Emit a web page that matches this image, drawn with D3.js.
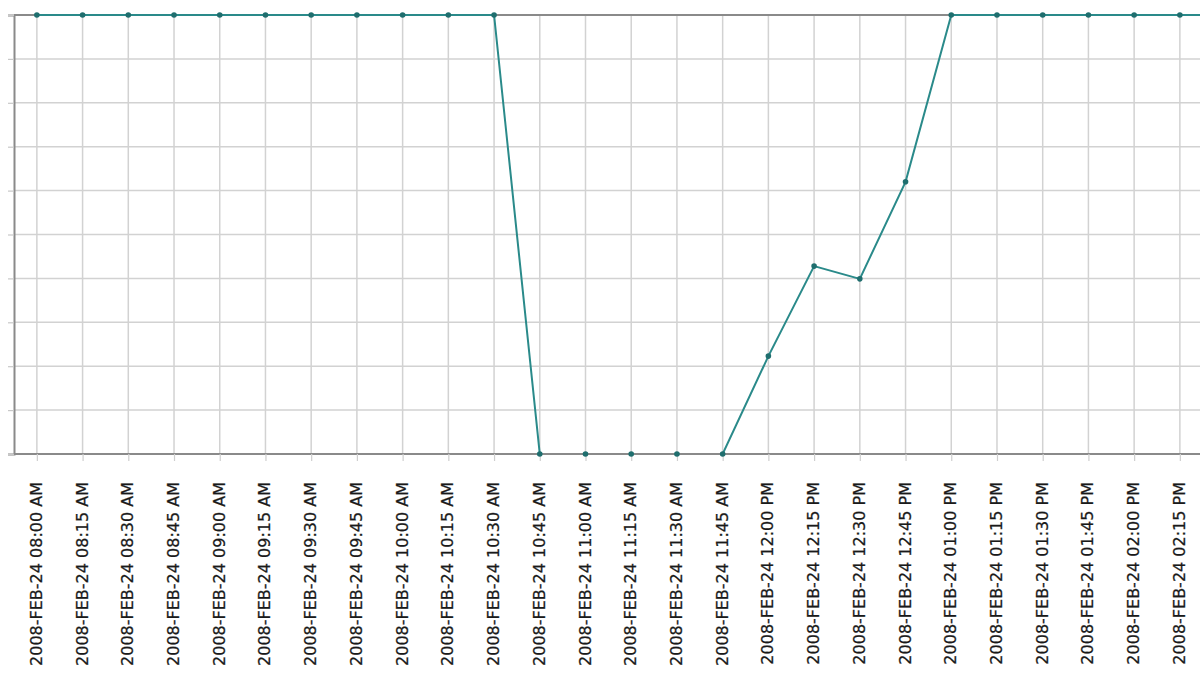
<!DOCTYPE html>
<html>
<head>
<meta charset="utf-8">
<script src="https://cdn.jsdelivr.net/npm/d3@7"></script>
<style>
  html, body { margin: 0; padding: 0; background: #fff; }
  svg { display: block; }
</style>
</head>
<body>
<svg id="chart" width="1200" height="675"></svg>
<script>
const categories = [
  "2008-FEB-24 08:00 AM", "2008-FEB-24 08:15 AM", "2008-FEB-24 08:30 AM", "2008-FEB-24 08:45 AM",
  "2008-FEB-24 09:00 AM", "2008-FEB-24 09:15 AM", "2008-FEB-24 09:30 AM", "2008-FEB-24 09:45 AM",
  "2008-FEB-24 10:00 AM", "2008-FEB-24 10:15 AM", "2008-FEB-24 10:30 AM", "2008-FEB-24 10:45 AM",
  "2008-FEB-24 11:00 AM", "2008-FEB-24 11:15 AM", "2008-FEB-24 11:30 AM", "2008-FEB-24 11:45 AM",
  "2008-FEB-24 12:00 PM", "2008-FEB-24 12:15 PM", "2008-FEB-24 12:30 PM", "2008-FEB-24 12:45 PM",
  "2008-FEB-24 01:00 PM", "2008-FEB-24 01:15 PM", "2008-FEB-24 01:30 PM", "2008-FEB-24 01:45 PM",
  "2008-FEB-24 02:00 PM", "2008-FEB-24 02:15 PM", "2008-FEB-24 02:30 PM"
];
const values = [
  100, 100, 100, 100, 100, 100, 100, 100, 100, 100, 100, 0,
  0, 0, 0, 0, 22.3, 42.8, 39.9, 62.0,
  100, 100, 100, 100, 100, 100, 100
];
const yTicks = [0, 10, 20, 30, 40, 50, 60, 70, 80, 90, 100];

(function () {
const svg = d3.select("#chart");
const W = 1200;
const mLeft = 14, mTop = 15, mBottom = 454, step = 45.72;

const x = d3.scalePoint()
  .domain(categories)
  .range([mLeft, mLeft + categories.length * step])
  .padding(0.5);
const y = d3.scaleLinear().domain([0, 100]).range([mBottom, mTop]);

const data = categories.map((c, i) => ({ c, v: values[i] }));

// horizontal grid
svg.append("g").selectAll("line").data(yTicks).join("line")
  .attr("x1", mLeft).attr("x2", W)
  .attr("y1", d => y(d)).attr("y2", d => y(d))
  .attr("stroke", "#d2d2d2").attr("stroke-width", 1.5);

// vertical grid
svg.append("g").selectAll("line").data(categories).join("line")
  .attr("x1", d => x(d)).attr("x2", d => x(d))
  .attr("y1", mTop).attr("y2", mBottom)
  .attr("stroke", "#d2d2d2").attr("stroke-width", 1.5);

// left axis with outer ticks
const yAxis = svg.append("g")
  .attr("transform", `translate(${mLeft},0)`)
  .call(d3.axisLeft(y).tickValues(yTicks).tickSize(6).tickFormat(""));
yAxis.select(".domain").attr("stroke", "#8a8a8a").attr("stroke-width", 2);
yAxis.selectAll(".tick line").attr("stroke", "#c8c8c8").attr("stroke-width", 1.2);

// top border
svg.append("line")
  .attr("x1", mLeft).attr("x2", W).attr("y1", mTop).attr("y2", mTop)
  .attr("stroke", "#8a8a8a").attr("stroke-width", 2);

// series line
svg.append("path")
  .datum(data)
  .attr("fill", "none")
  .attr("stroke", "#2a8a8a")
  .attr("stroke-width", 2)
  .attr("d", d3.line().x(d => x(d.c)).y(d => y(d.v)));

// bottom axis
const xAxis = svg.append("g")
  .attr("transform", `translate(0,${mBottom})`)
  .call(d3.axisBottom(x).tickSize(7).tickSizeOuter(0).tickFormat(""));
xAxis.select(".domain").attr("stroke", "#8a8a8a").attr("stroke-width", 2)
  .attr("d", `M${mLeft},0H${W}`);
xAxis.selectAll(".tick line").attr("stroke", "#cfcfcf").attr("stroke-width", 1.2);

// labels (only those whose column lies inside the picture)
svg.append("g").selectAll("text").data(categories.filter(d => x(d) + 8 < W)).join("text")
  .attr("transform", d => `translate(${x(d) + 5},${482}) rotate(-90)`)
  .attr("text-anchor", "end")
  .attr("font-family", "DejaVu Sans, Verdana, sans-serif")
  .attr("font-size", 16)
  .attr("fill", "#1a1a1a")
  .attr("stroke", "#1a1a1a")
  .attr("stroke-width", 0.25)
  .text(d => d);

// points
svg.append("g").selectAll("circle").data(data).join("circle")
  .attr("cx", d => x(d.c)).attr("cy", d => y(d.v))
  .attr("r", 2.8)
  .attr("fill", "#1f6e6e");
})();
</script>
</body>
</html>
